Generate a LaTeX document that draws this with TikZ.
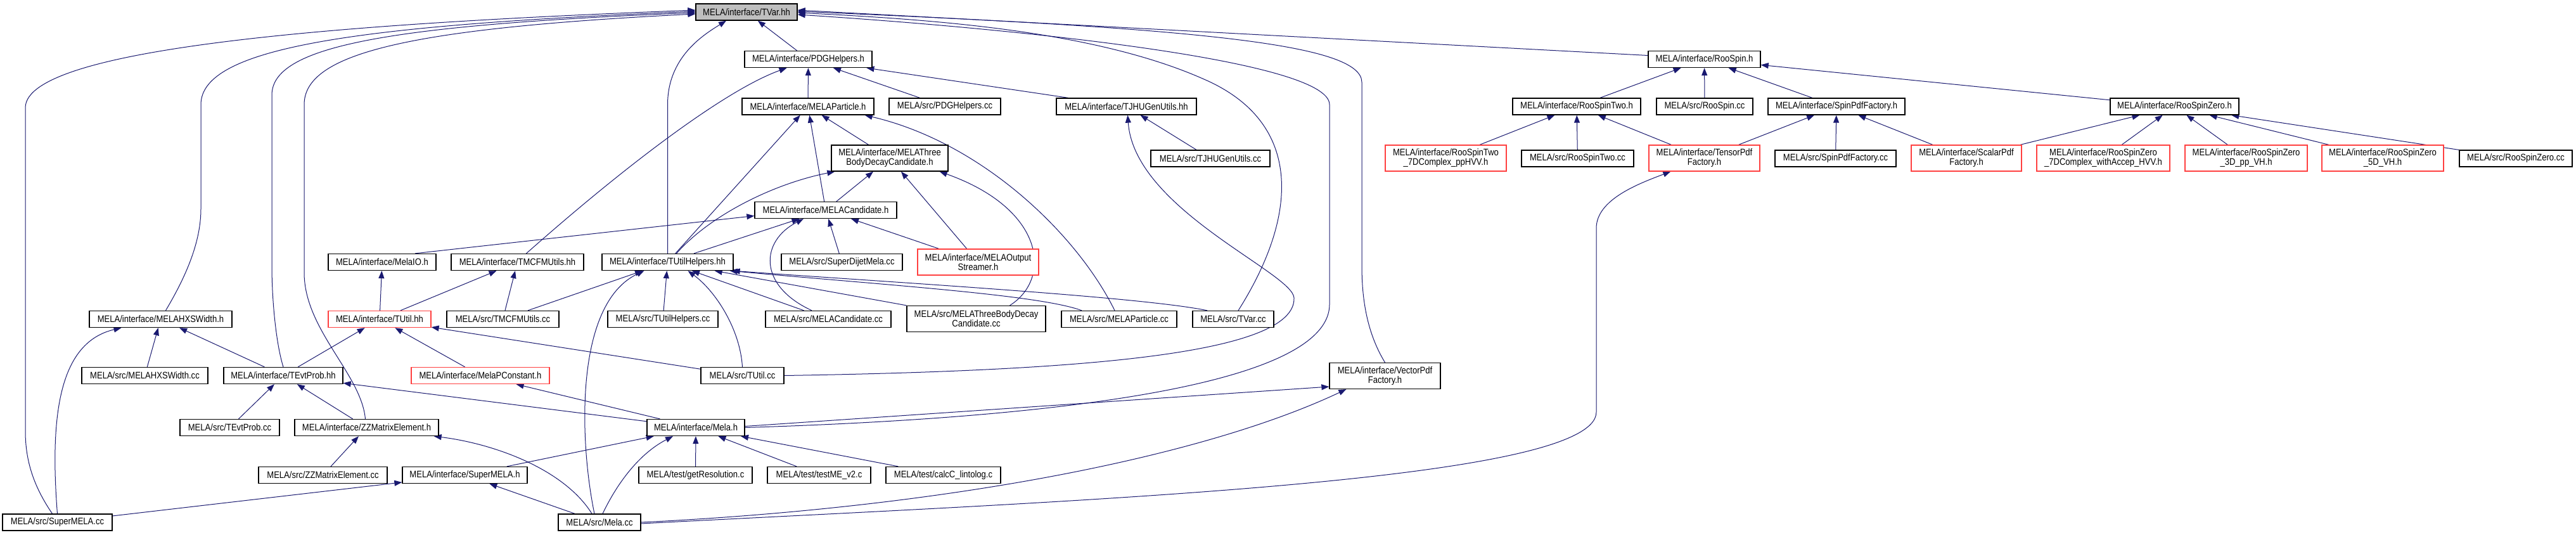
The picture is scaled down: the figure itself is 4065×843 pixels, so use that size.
\documentclass[tikz,border=0pt]{standalone}
\usepackage{fontspec}
\setmainfont{Liberation Sans}[FakeStretch=0.87]
\usetikzlibrary{arrows.meta}
\pgfdeclarelayer{paper}
\pgfdeclarelayer{edges}
\pgfsetlayers{paper,edges,main}
\definecolor{edgec}{HTML}{191970}
\definecolor{redc}{HTML}{FF4040}
\definecolor{grayfill}{HTML}{BFBFBF}
\begin{document}
\begin{tikzpicture}[x=1pt,y=-1pt,
 nb/.style={draw=black, line width=1.3pt, fill=white, inner sep=0pt, minimum height=26pt, align=center, font=\fontsize{15}{15}\selectfont},
 nb2/.style={nb, minimum height=41pt},
 redb/.style={draw=redc},
 edge/.style={draw=edgec, line width=1pt, -{Triangle[length=12pt,width=9pt]}}
]
\useasboundingbox (0,0) rectangle (4065,843);
\begin{pgfonlayer}{paper}
\fill[white] (0,0) rectangle (4065,843);
\end{pgfonlayer}

\node[nb, minimum width=160pt, fill=grayfill] (tvar) at (1178,19) {MELA/interface/TVar.hh};
\node[nb, minimum width=201pt] (pdgh) at (1275.5,93.5) {MELA/interface/PDGHelpers.h};
\node[nb, minimum width=177pt] (roospin) at (2689.5,93.5) {MELA/interface/RooSpin.h};
\node[nb, minimum width=208pt] (melapart) at (1275,168) {MELA/interface/MELAParticle.h};
\node[nb, minimum width=176pt] (pdgcc) at (1491,168) {MELA/src/PDGHelpers.cc};
\node[nb, minimum width=221pt] (tjhuh) at (1777.5,168) {MELA/interface/TJHUGenUtils.hh};
\node[nb, minimum width=202pt] (roospintwo) at (2488,168) {MELA/interface/RooSpinTwo.h};
\node[nb, minimum width=152pt] (roospincc) at (2690,168) {MELA/src/RooSpin.cc};
\node[nb, minimum width=216pt] (spinpdf) at (2898,168) {MELA/interface/SpinPdfFactory.h};
\node[nb, minimum width=203pt] (roospinzero) at (3431.5,168) {MELA/interface/RooSpinZero.h};
\node[nb2, minimum width=184pt] (threebody) at (1404,249.5) {MELA/interface/MELAThree\\BodyDecayCandidate.h};
\node[nb, minimum width=188pt] (tjhucc) at (1910,250) {MELA/src/TJHUGenUtils.cc};
\node[nb2, redb, minimum width=191pt] (rst7d) at (2281.5,249.5) {MELA/interface/RooSpinTwo\\\_7DComplex\_ppHVV.h};
\node[nb, minimum width=177pt] (roospintwocc) at (2489.5,250) {MELA/src/RooSpinTwo.cc};
\node[nb2, redb, minimum width=175pt] (tensorpdf) at (2689.5,249.5) {MELA/interface/TensorPdf\\Factory.h};
\node[nb, minimum width=191pt] (spinpdfcc) at (2896.5,250) {MELA/src/SpinPdfFactory.cc};
\node[nb2, redb, minimum width=174pt] (scalarpdf) at (3103,249.5) {MELA/interface/ScalarPdf\\Factory.h};
\node[nb2, redb, minimum width=210pt] (rsz7d) at (3319,249.5) {MELA/interface/RooSpinZero\\\_7DComplex\_withAccep\_HVV.h};
\node[nb2, redb, minimum width=193pt] (rsz3d) at (3544.5,249.5) {MELA/interface/RooSpinZero\\\_3D\_pp\_VH.h};
\node[nb2, redb, minimum width=192pt] (rsz5d) at (3760,249.5) {MELA/interface/RooSpinZero\\\_5D\_VH.h};
\node[nb, minimum width=178pt] (rszcc) at (3970,250) {MELA/src/RooSpinZero.cc};
\node[nb, minimum width=224pt] (melacand) at (1303,331.5) {MELA/interface/MELACandidate.h};
\node[nb, minimum width=170pt] (melaio) at (603,413.5) {MELA/interface/MelaIO.h};
\node[nb, minimum width=209pt] (tmcfmh) at (816.5,413.5) {MELA/interface/TMCFMUtils.hh};
\node[nb, minimum width=207pt] (tutilhelpers) at (1053.5,413.5) {MELA/interface/TUtilHelpers.hh};
\node[nb, minimum width=191pt] (superdijet) at (1328.5,413.5) {MELA/src/SuperDijetMela.cc};
\node[nb2, redb, minimum width=191pt] (outstreamer) at (1543.5,413.5) {MELA/interface/MELAOutput\\Streamer.h};
\node[nb, minimum width=225pt] (hxsh) at (253.5,503.5) {MELA/interface/MELAHXSWidth.h};
\node[nb, redb, minimum width=162pt] (tutilhh) at (599,503.5) {MELA/interface/TUtil.hh};
\node[nb, minimum width=177pt] (tmcfmcc) at (793.5,503.5) {MELA/src/TMCFMUtils.cc};
\node[nb, minimum width=174pt] (tutilhelperscc) at (1046,503.5) {MELA/src/TUtilHelpers.cc};
\node[nb, minimum width=198pt] (melacandcc) at (1307,503.5) {MELA/src/MELACandidate.cc};
\node[nb2, minimum width=219pt] (threebodycc) at (1540.5,503) {MELA/src/MELAThreeBodyDecay\\Candidate.cc};
\node[nb, minimum width=182pt] (melapartcc) at (1766,503.5) {MELA/src/MELAParticle.cc};
\node[nb, minimum width=128pt] (tvarcc) at (1946,503.5) {MELA/src/TVar.cc};
\node[nb, minimum width=199pt] (hxscc) at (228.5,592.5) {MELA/src/MELAHXSWidth.cc};
\node[nb, minimum width=188pt] (tevtprobh) at (447,592.5) {MELA/interface/TEvtProb.hh};
\node[nb, redb, minimum width=218pt] (pconst) at (758,592.5) {MELA/interface/MelaPConstant.h};
\node[nb, minimum width=131pt] (tutilcc) at (1171.5,592.5) {MELA/src/TUtil.cc};
\node[nb2, minimum width=175pt] (vectorpdf) at (2185.5,593) {MELA/interface/VectorPdf\\Factory.h};
\node[nb, minimum width=157pt] (tevtprobcc) at (362.5,674.5) {MELA/src/TEvtProb.cc};
\node[nb, minimum width=227pt] (zzmeh) at (578.5,674.5) {MELA/interface/ZZMatrixElement.h};
\node[nb, minimum width=154pt] (melah) at (1098,674.5) {MELA/interface/Mela.h};
\node[nb, minimum width=203pt] (zzmecc) at (509.5,749.5) {MELA/src/ZZMatrixElement.cc};
\node[nb, minimum width=197pt] (supermelah) at (733.5,749.5) {MELA/interface/SuperMELA.h};
\node[nb, minimum width=179pt] (getres) at (1097.5,749.5) {MELA/test/getResolution.c};
\node[nb, minimum width=163pt] (testme) at (1292.5,749.5) {MELA/test/testME\_v2.c};
\node[nb, minimum width=181pt] (calcc) at (1488.5,749.5) {MELA/test/calcC\_lintolog.c};
\node[nb, minimum width=173pt] (supermelacc) at (90.5,824) {MELA/src/SuperMELA.cc};
\node[nb, minimum width=130pt] (melacc) at (946,824) {MELA/src/Mela.cc};

\begin{pgfonlayer}{edges}
% into TVar.hh
\draw[edge] (pdgh) -- (tvar);
\draw[edge] (tutilhelpers.north) -- (1053.5,165) .. controls (1053.5,90) and (1110,55) .. ([xshift=-32pt]tvar.south);
\draw[edge] ([xshift=-8pt]supermelacc.north) .. controls (55,770) and (40,730) .. (40,680) -- (40,170) .. controls (40,70) and (600,35) .. ([yshift=3pt]tvar.west);
\draw[edge] ([xshift=8pt]hxsh.north) .. controls (285,450) and (317,390) .. (317,330) -- (317,165) .. controls (317,75) and (560,40) .. ([yshift=1pt]tvar.west);
\draw[edge] (tevtprobh.north) .. controls (435,540) and (429,470) .. (429,420) -- (429,150) .. controls (429,75) and (600,40) .. ([yshift=-1pt]tvar.west);
\draw[edge] ([xshift=-2pt]zzmeh.north) .. controls (570,590) and (480,520) .. (480,430) -- (480,165) .. controls (480,85) and (640,45) .. ([yshift=-3pt]tvar.west);
\draw[edge] ([yshift=6pt]roospin.west) -- ([yshift=3pt]tvar.east);
\draw[edge] (vectorpdf.north) .. controls (2160,530) and (2149,480) .. (2149,420) -- (2149,130) .. controls (2149,70) and (1900,45) .. ([yshift=1pt]tvar.east);
\draw[edge] (melah.east) .. controls (1650,660) and (2098,610) .. (2098,480) -- (2098,165) .. controls (2098,95) and (1600,45) .. ([yshift=-4pt]tvar.east);
\draw[edge] ([xshift=8pt]tvarcc.north) .. controls (2055,330) and (2050,190) .. (1900,125) .. controls (1720,45) and (1450,30) .. ([yshift=-1pt]tvar.east);
% into PDGHelpers.h
\draw[edge] (melapart) -- (pdgh);
\draw[edge] (pdgcc) -- (pdgh);
\draw[edge] (tjhuh) -- (pdgh);
\draw[edge] ([xshift=14pt]tmcfmh.north) .. controls (1000,250) and (1150,140) .. ([xshift=-34pt]pdgh.south);
% into RooSpin.h
\draw[edge] (roospintwo) -- (roospin);
\draw[edge] (roospincc) -- (roospin);
\draw[edge] (spinpdf) -- (roospin);
\draw[edge] (roospinzero) -- (roospin);
% into MELAParticle.h
\draw[edge] (tutilhelpers) -- (melapart);
\draw[edge] (melacand) -- (melapart);
\draw[edge] (threebody) -- (melapart);
\draw[edge] ([xshift=-7pt]melapartcc.north) .. controls (1700,370) and (1550,225) .. ([xshift=-15pt]melapart.south east);
% into TJHUGenUtils.hh
\draw[edge] (tjhucc) -- (tjhuh);
\draw[edge] (tutilcc.east) .. controls (1700,585) and (2045,560) .. (2042,470) .. controls (2040,430) and (1790,330) .. ([xshift=2pt]tjhuh.south);
% into RooSpinTwo.h
\draw[edge] (rst7d) -- (roospintwo);
\draw[edge] (roospintwocc) -- (roospintwo);
\draw[edge] (tensorpdf) -- (roospintwo);
% into SpinPdfFactory.h
\draw[edge] (tensorpdf) -- (spinpdf);
\draw[edge] (spinpdfcc) -- (spinpdf);
\draw[edge] (scalarpdf) -- (spinpdf);
% into RooSpinZero.h
\draw[edge] (scalarpdf) -- (roospinzero);
\draw[edge] (rsz7d) -- (roospinzero);
\draw[edge] (rsz3d) -- (roospinzero);
\draw[edge] (rsz5d) -- (roospinzero);
\draw[edge] (rszcc) -- (roospinzero);
% into MELAThreeBodyDecayCandidate.h
\draw[edge] (melacand) -- (threebody);
\draw[edge] ([xshift=14pt]tutilhelpers.north) .. controls (1120,340) and (1220,290) .. ([xshift=6pt]threebody.south west);
\draw[edge] (outstreamer) -- (threebody);
\draw[edge] ([xshift=53pt]threebodycc.north) .. controls (1660,440) and (1650,330) .. ([xshift=-14pt]threebody.south east);
% into MELACandidate.h
\draw[edge] ([xshift=52pt]melaio.north) -- ([yshift=-9pt]melacand.west);
\draw[edge] (tutilhelpers) -- (melacand);
\draw[edge] ([xshift=-26pt]melacandcc.north) .. controls (1195,450) and (1200,380) .. ([xshift=-35pt]melacand.south);
\draw[edge] (superdijet) -- (melacand);
\draw[edge] (outstreamer) -- (melacand);
% into MelaIO.h / TMCFMUtils.hh
\draw[edge] (tutilhh) -- (melaio);
\draw[edge] (tutilhh) -- (tmcfmh);
\draw[edge] (tmcfmcc) -- (tmcfmh);
% into TUtilHelpers.hh
\draw[edge] (tmcfmcc) -- (tutilhelpers);
\draw[edge] ([xshift=-8pt]melacc.north) .. controls (915,700) and (905,480) .. ([xshift=-37pt]tutilhelpers.south);
\draw[edge] (tutilhelperscc) -- (tutilhelpers);
\draw[edge] (tutilcc.north) .. controls (1168,520) and (1130,460) .. ([xshift=32pt]tutilhelpers.south);
\draw[edge] (melacandcc) -- (tutilhelpers);
\draw[edge] (threebodycc.north west) -- ([xshift=-30pt]tutilhelpers.south east);
\draw[edge] ([xshift=-59pt]melapartcc.north) .. controls (1640,465) and (1400,450) .. ([xshift=-6pt]tutilhelpers.south east);
\draw[edge] ([xshift=-41pt]tvarcc.north) .. controls (1800,468) and (1400,445) .. ([xshift=-2pt]tutilhelpers.south east);
% into TUtil.hh
\draw[edge] (tevtprobh) -- (tutilhh);
\draw[edge] (pconst) -- (tutilhh);
\draw[edge] (tutilcc) -- (tutilhh);
% into MELAHXSWidth.h
\draw[edge] (supermelacc.north) .. controls (78,650) and (95,540) .. ([xshift=-62pt]hxsh.south);
\draw[edge] (hxscc) -- (hxsh);
\draw[edge] (tevtprobh) -- (hxsh);
% into TEvtProb.hh
\draw[edge] (tevtprobcc) -- (tevtprobh);
\draw[edge] (zzmeh) -- (tevtprobh);
\draw[edge] (melah) -- (tevtprobh);
% into MelaPConstant.h, VectorPdfFactory.h, TensorPdfFactory.h
\draw[edge] (melah) -- (pconst);
\draw[edge] ([yshift=2pt]melah.east) -- ([yshift=-17pt]vectorpdf.west);
\draw[edge] (melacc.east) .. controls (1500,800) and (1900,720) .. ([xshift=27pt]vectorpdf.south west);
\draw[edge] ([yshift=-2pt]melacc.east) .. controls (1700,790) and (2519,760) .. (2519,650) -- (2519,360) .. controls (2519,315) and (2585,290) .. ([xshift=35pt]tensorpdf.south west);
% into ZZMatrixElement.h
\draw[edge] (zzmecc) -- (zzmeh);
\draw[edge] ([xshift=-12pt]melacc.north) .. controls (890,740) and (780,700) .. ([xshift=-8pt]zzmeh.south east);
% into Mela.h
\draw[edge] (supermelah) -- (melah);
\draw[edge] ([xshift=5pt]melacc.north) .. controls (975,760) and (1010,715) .. ([xshift=-36pt]melah.south);
\draw[edge] (getres) -- (melah);
\draw[edge] (testme) -- (melah);
\draw[edge] (calcc) -- (melah);
% into SuperMELA.h
\draw[edge] (supermelacc) -- (supermelah);
\draw[edge] (melacc) -- (supermelah);
\end{pgfonlayer}
\end{tikzpicture}
\end{document}
